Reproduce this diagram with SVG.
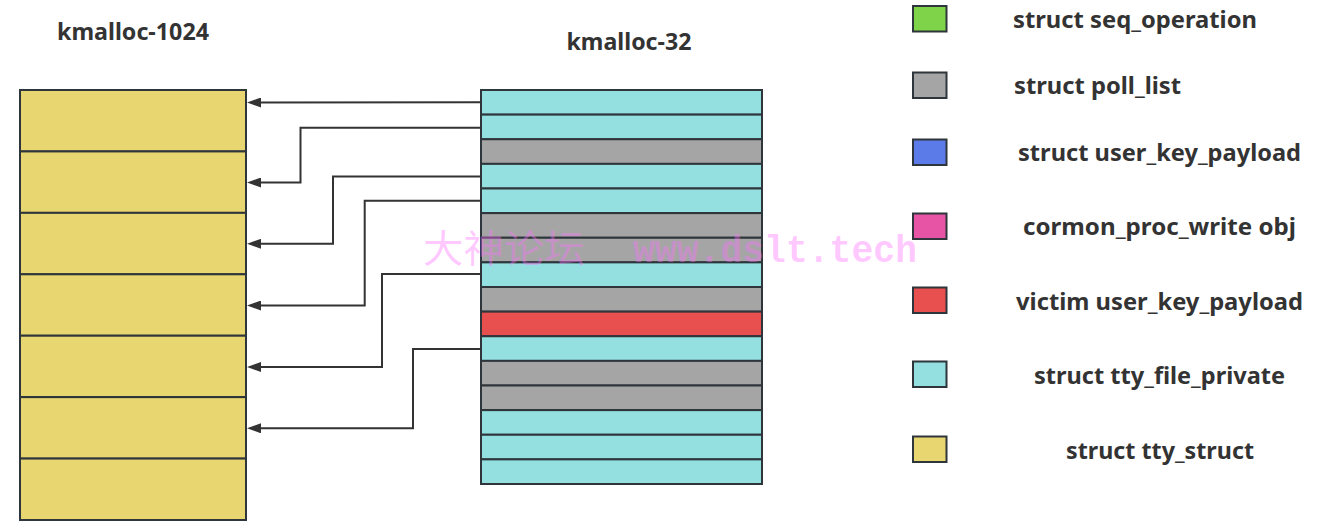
<svg xmlns="http://www.w3.org/2000/svg" width="1341" height="525" viewBox="0 0 1341 525">
<defs>
<style>
.t{font-family:"Noto Sans","Open Sans","Liberation Sans",sans-serif;font-weight:bold;fill:#333333;}
.title{font-size:23px;}
.lg{font-size:23px;}
.cell{stroke:#2e353b;stroke-width:2;}
.y{fill:#e8d670;}
.c{fill:#94e0e0;}
.g{fill:#a5a5a5;}
.r{fill:#e84f4f;}
.gr{fill:#7ed348;}
.b{fill:#5b7be8;}
.p{fill:#e754a6;}
.conn{fill:none;stroke:#333333;stroke-width:2;}
.wm{fill:#ff70ff;fill-opacity:0.38;}
</style>
<marker id="ah" viewBox="0 0 14 10" refX="0" refY="5" markerWidth="14" markerHeight="10" markerUnits="userSpaceOnUse" orient="auto">
<path d="M0,0 L14,5 L0,10 Z" fill="#333333"/>
</marker>
</defs>

<text class="t title" x="133" y="40" text-anchor="middle" textLength="152" lengthAdjust="spacingAndGlyphs">kmalloc-1024</text>
<text class="t title" x="629" y="49.5" text-anchor="middle" textLength="125" lengthAdjust="spacingAndGlyphs">kmalloc-32</text>

<g id="kmalloc-1024">
<rect class="cell y" x="20" y="90" width="226" height="61.43"/>
<rect class="cell y" x="20" y="151.43" width="226" height="61.43"/>
<rect class="cell y" x="20" y="212.86" width="226" height="61.43"/>
<rect class="cell y" x="20" y="274.29" width="226" height="61.43"/>
<rect class="cell y" x="20" y="335.71" width="226" height="61.43"/>
<rect class="cell y" x="20" y="397.14" width="226" height="61.43"/>
<rect class="cell y" x="20" y="458.57" width="226" height="61.43"/>
</g>

<g id="kmalloc-32">
<rect class="cell c" x="481" y="90" width="281" height="24.625"/>
<rect class="cell c" x="481" y="114.625" width="281" height="24.625"/>
<rect class="cell g" x="481" y="139.25" width="281" height="24.625"/>
<rect class="cell c" x="481" y="163.875" width="281" height="24.625"/>
<rect class="cell c" x="481" y="188.5" width="281" height="24.625"/>
<rect class="cell g" x="481" y="213.125" width="281" height="24.625"/>
<rect class="cell g" x="481" y="237.75" width="281" height="24.625"/>
<rect class="cell c" x="481" y="262.375" width="281" height="24.625"/>
<rect class="cell g" x="481" y="287" width="281" height="24.625"/>
<rect class="cell r" x="481" y="311.625" width="281" height="24.625"/>
<rect class="cell c" x="481" y="336.25" width="281" height="24.625"/>
<rect class="cell g" x="481" y="360.875" width="281" height="24.625"/>
<rect class="cell g" x="481" y="385.5" width="281" height="24.625"/>
<rect class="cell c" x="481" y="410.125" width="281" height="24.625"/>
<rect class="cell c" x="481" y="434.75" width="281" height="24.625"/>
<rect class="cell c" x="481" y="459.375" width="281" height="24.625"/>
</g>

<g id="connectors">
<path class="conn" marker-end="url(#ah)" d="M480,102.3 L261,102.5"/>
<path class="conn" marker-end="url(#ah)" d="M480,127.8 H300.5 V182.5 H261"/>
<path class="conn" marker-end="url(#ah)" d="M480,176.5 H333 V243.8 H261"/>
<path class="conn" marker-end="url(#ah)" d="M480,200.8 H364.7 V305.5 H261"/>
<path class="conn" marker-end="url(#ah)" d="M480,274 H382 V367 H261"/>
<path class="conn" marker-end="url(#ah)" d="M480,349 H413 V428.3 H261"/>
</g>

<g id="legend-seq_operation">
<rect class="cell gr" x="913" y="6" width="33.5" height="25.5"/>
<text class="t lg" x="1135" y="28" text-anchor="middle" textLength="244" lengthAdjust="spacingAndGlyphs">struct seq_operation</text>
</g>
<g id="legend-poll_list">
<rect class="cell g" x="913" y="72.5" width="33.5" height="25.5"/>
<text class="t lg" x="1097.5" y="94" text-anchor="middle" textLength="167" lengthAdjust="spacingAndGlyphs">struct poll_list</text>
</g>
<g id="legend-user_key_payload">
<rect class="cell b" x="913" y="139.5" width="33.5" height="25.5"/>
<text class="t lg" x="1159.5" y="161" text-anchor="middle" textLength="283" lengthAdjust="spacingAndGlyphs">struct user_key_payload</text>
</g>
<g id="legend-cormon">
<rect class="cell p" x="913" y="213.5" width="33.5" height="25.5"/>
<text class="t lg" x="1159.5" y="235" text-anchor="middle" textLength="273" lengthAdjust="spacingAndGlyphs">cormon_proc_write obj</text>
</g>
<g id="legend-victim">
<rect class="cell r" x="913" y="287.5" width="33.5" height="25.5"/>
<text class="t lg" x="1159.5" y="309.5" text-anchor="middle" textLength="287" lengthAdjust="spacingAndGlyphs">victim user_key_payload</text>
</g>
<g id="legend-tty_file_private">
<rect class="cell c" x="913" y="361.5" width="33.5" height="25.5"/>
<text class="t lg" x="1159.5" y="383.5" text-anchor="middle" textLength="251" lengthAdjust="spacingAndGlyphs">struct tty_file_private</text>
</g>
<g id="legend-tty_struct">
<rect class="cell y" x="913" y="436.5" width="33.5" height="25.5"/>
<text class="t lg" x="1160" y="458.5" text-anchor="middle" textLength="188" lengthAdjust="spacingAndGlyphs">struct tty_struct</text>
</g>

<g id="watermark">
<text class="wm" x="423" y="262" font-family="'Noto Sans CJK SC',sans-serif" font-size="38" textLength="162" lengthAdjust="spacingAndGlyphs">大神论坛</text>
<text class="wm" x="633" y="261.5" font-family="'Liberation Mono',monospace" font-weight="bold" font-size="38" textLength="284" lengthAdjust="spacingAndGlyphs">www.dslt.tech</text>
</g>
</svg>
